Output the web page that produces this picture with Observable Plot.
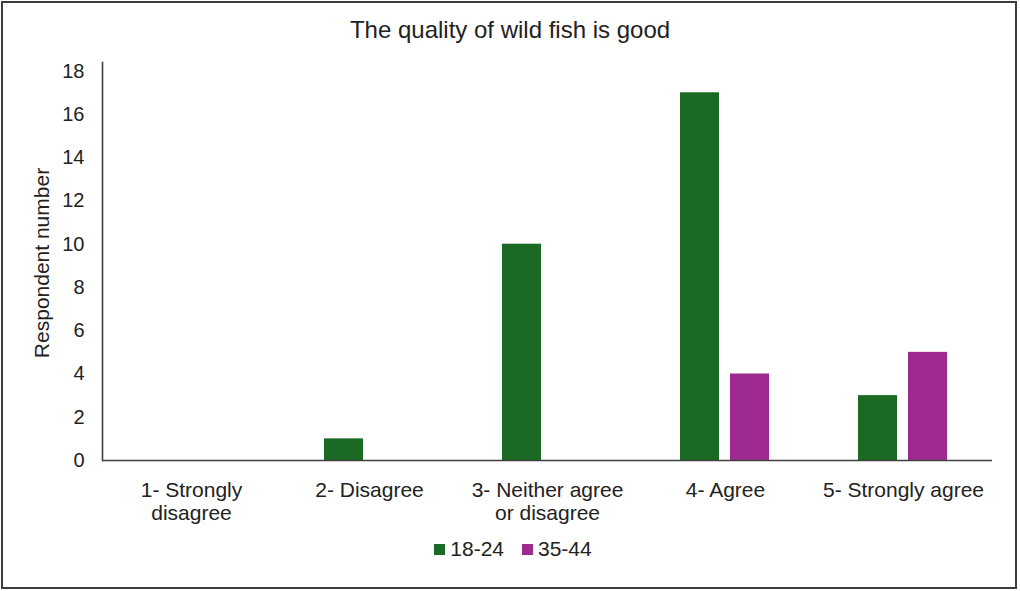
<!DOCTYPE html>
<html>
<head>
<meta charset="utf-8">
<script src="https://cdn.jsdelivr.net/npm/d3@7"></script>
<script src="https://cdn.jsdelivr.net/npm/@observablehq/plot@0.6"></script>
<style>
  html, body { margin: 0; padding: 0; background: #fff; }
  #wrap { position: relative; width: 1020px; height: 591px; overflow: hidden; font-family: "Liberation Sans", Arial, sans-serif; color: #222; }
  #border { position: absolute; left: 1px; top: 1px; width: 1012px; height: 584px; border: 2px solid #3c3c3c; box-sizing: content-box; }
  #title { position: absolute; left: 0; width: 1020px; top: 16px; text-align: center; font-size: 24px; line-height: 28px; }
  #ylabel { position: absolute; left: 42px; top: 263px; transform: translate(-50%, -50%) rotate(-90deg); font-size: 21px; white-space: nowrap; }
  #chart { position: absolute; left: 0; top: 0; }
  #legend { position: absolute; left: 0; width: 1020px; top: 536px; display: flex; justify-content: center; gap: 18px; font-size: 21px; line-height: 26px; padding-left: 6px; box-sizing: border-box; }
  .item { display: flex; align-items: center; gap: 5px; }
  .sw { width: 11px; height: 11px; display: inline-block; }
</style>
</head>
<body>
<div id="wrap">
  <div id="border"></div>
  <div id="chart"></div>
  <div id="title"></div>
  <div id="ylabel"></div>
  <div id="legend"></div>
</div>
<script>
const titleText = "The quality of wild fish is good";
const yLabel = "Respondent number";
const categories = ["1- Strongly\ndisagree", "2- Disagree", "3- Neither agree\nor disagree", "4- Agree", "5- Strongly agree"];
const groups = ["18-24", "35-44"];
const values1824 = [0, 1, 10, 17, 3];
const values3544 = [0, 0, 0, 4, 5];
const colors = ["#1b6a23", "#9e2a8f"];
const yTicks = [0, 2, 4, 6, 8, 10, 12, 14, 16, 18];

const data = categories.flatMap((c, i) => [
  {category: c, group: groups[0], value: values1824[i]},
  {category: c, group: groups[1], value: values3544[i]}
]);

const chart = Plot.plot({
  width: 1020,
  height: 520,
  marginLeft: 101,
  marginRight: 28,
  marginTop: 62,
  marginBottom: 60,
  fx: {domain: categories, padding: 0, label: null},
  x: {domain: groups, paddingInner: 0.216, paddingOuter: 0.856, axis: null},
  y: {domain: [0, 18.4]},
  color: {domain: groups, range: colors},
  style: {fontFamily: "'Liberation Sans', Arial, sans-serif", color: "#222", background: "transparent", overflow: "visible"},
  marks: [
    Plot.barY(data, {fx: "category", x: "group", y: "value", fill: "group"}),
    Plot.ruleY([0], {stroke: "#404040", strokeWidth: 1.6}),
    Plot.frame({anchor: "left", fx: [categories[0]], stroke: "#404040", strokeWidth: 1.6}),
    Plot.axisY({anchor: "left", ticks: yTicks, tickSize: 0, tickPadding: 18, fontSize: 20, label: null}),
    Plot.axisFx({anchor: "bottom", tickSize: 0, tickPadding: 20, fontSize: 21, lineHeight: 1.1, label: null})
  ]
});
document.getElementById("chart").appendChild(chart);
document.getElementById("title").textContent = titleText;
document.getElementById("ylabel").textContent = yLabel;
const legend = document.getElementById("legend");
groups.forEach((g, i) => {
  const item = document.createElement("div");
  item.className = "item";
  const sw = document.createElement("span");
  sw.className = "sw";
  sw.style.background = colors[i];
  const t = document.createElement("span");
  t.textContent = g;
  item.appendChild(sw);
  item.appendChild(t);
  legend.appendChild(item);
});
</script>
</body>
</html>
